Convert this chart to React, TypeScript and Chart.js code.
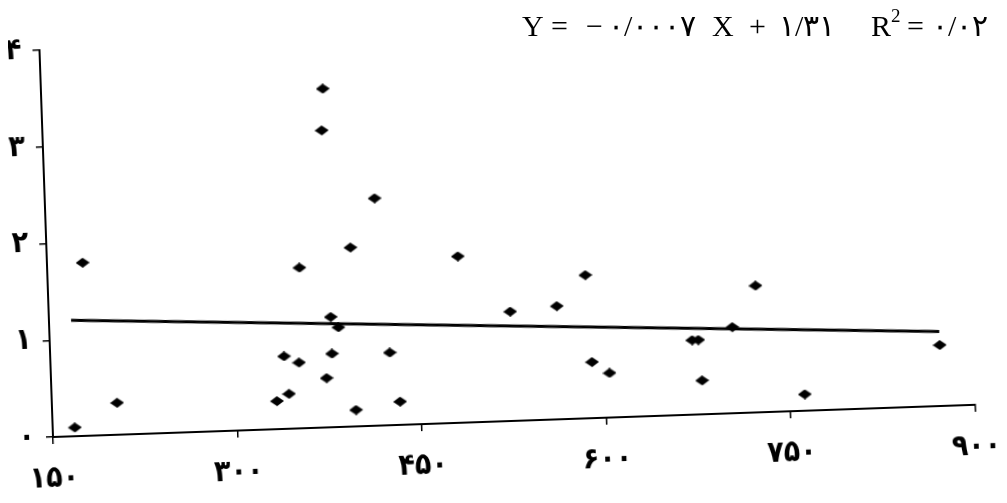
import React, { useEffect, useRef } from "react";
import { Chart, registerables } from "chart.js";

Chart.register(...registerables);

const xValues = [168, 179, 203, 333, 340, 343, 355, 352, 379, 377, 374, 379, 379, 385, 397, 397, 418, 426, 433, 484, 525, 563, 587, 590, 604, 672, 677, 679, 705, 725, 762, 873];
const yValues = [0.09, 1.79, 0.33, 0.29, 0.75, 0.36, 1.66, 0.68, 3.5, 3.07, 0.51, 1.14, 0.76, 1.03, 1.85, 0.17, 2.35, 0.75, 0.24, 1.72, 1.13, 1.17, 1.48, 0.58, 0.46, 0.77, 0.77, 0.35, 0.89, 1.31, 0.17, 0.63];

// Fitted trend line end points
const trendX = [168, 873];
const trendY = [1.2, 0.77];

const xTicks = [150, 300, 450, 600, 750, 900];
const yTicks = [0, 1, 2, 3, 4];

// Equation text pieces
const eqSlope = "0/0007";
const eqIntercept = "1/31";
const eqR2 = "0/02";

const PERSIAN = "۰۱۲۳۴۵۶۷۸۹";
const fa = (v: number | string) => String(v).replace(/\d/g, (d) => PERSIAN[Number(d)]);

function makeDiamond(): HTMLCanvasElement {
  const c = document.createElement("canvas");
  c.width = 14;
  c.height = 10;
  const ctx = c.getContext("2d")!;
  ctx.fillStyle = "#000";
  ctx.beginPath();
  ctx.moveTo(0, 5);
  ctx.lineTo(7, 0);
  ctx.lineTo(14, 5);
  ctx.lineTo(7, 10);
  ctx.closePath();
  ctx.fill();
  return c;
}

const serif = "'Liberation Serif', 'DejaVu Serif', serif";

function Piece({ left, children, style }: { left: number; children: React.ReactNode; style?: React.CSSProperties }) {
  return (
    <span
      style={{
        position: "absolute",
        left,
        top: 3,
        fontFamily: serif,
        fontSize: 30,
        lineHeight: "30px",
        whiteSpace: "pre",
        color: "#000",
        ...style,
      }}
    >
      {children}
    </span>
  );
}

export default function App() {
  const ref = useRef<HTMLCanvasElement | null>(null);

  useEffect(() => {
    if (!ref.current) return;
    const diamond = makeDiamond();
    const family = "'DejaVu Sans Condensed', 'DejaVu Sans', sans-serif";
    const xFont = { family, size: 30, weight: "bold" as const };
    const yFont = { family, size: 30, weight: "bold" as const };
    const chart = new Chart(ref.current, {
      type: "scatter",
      data: {
        datasets: [
          {
            label: "obs",
            data: xValues.map((x, i) => ({ x, y: yValues[i] })),
            pointStyle: diamond as any,
            pointRadius: 6,
            pointHoverRadius: 6,
            backgroundColor: "#000",
            borderColor: "#000",
            showLine: false,
          },
          {
            label: "trend",
            data: trendX.map((x, i) => ({ x, y: trendY[i] })),
            showLine: true,
            borderColor: "#000",
            borderWidth: 3,
            pointRadius: 0,
            fill: false,
          },
        ],
      },
      options: {
        responsive: false,
        animation: false,
        events: [],
        layout: { padding: { left: 0, right: 23.4, top: 42, bottom: 0 } },
        plugins: { legend: { display: false }, tooltip: { enabled: false }, title: { display: false } },
        scales: {
          x: {
            type: "linear",
            min: 150,
            max: 900,
            afterBuildTicks: (s: any) => {
              s.ticks = xTicks.map((v) => ({ value: v }));
            },
            afterFit: (s: any) => {
              s.height = 58;
              s.paddingLeft = 0;
              s.paddingRight = 0;
            },
            border: { display: true, color: "#000", width: 2 },
            grid: { display: true, drawOnChartArea: false, drawTicks: true, tickLength: 7, color: "#000", lineWidth: 1.5 },
            ticks: { color: "#000", font: xFont, padding: 17, maxRotation: 0, callback: (v: any) => fa(v) },
          },
          y: {
            type: "linear",
            min: 0,
            max: 4,
            afterBuildTicks: (s: any) => {
              s.ticks = yTicks.map((v) => ({ value: v }));
            },
            afterFit: (s: any) => {
              s.width = 45;
              s.paddingTop = 0;
              s.paddingBottom = 0;
            },
            border: { display: true, color: "#000", width: 2 },
            grid: { display: true, drawOnChartArea: false, drawTicks: true, tickLength: 7, color: "#000", lineWidth: 1.5 },
            ticks: { color: "#000", font: yFont, padding: 11, callback: (v: any) => fa(v) },
          },
        },
      },
    });
    return () => chart.destroy();
  }, []);

  return (
    <div style={{ position: "relative", width: 991, height: 487, background: "#fff" }}>
      <canvas
        ref={ref}
        width={991}
        height={487}
        style={{
          position: "absolute",
          left: 0,
          top: 0,
          width: 991,
          height: 487,
          transform: "rotate(-2deg)",
          transformOrigin: "45px 429px",
        }}
      />
      <Piece left={514}>Y</Piece>
      <Piece left={543}>=</Piece>
      <Piece left={578}>−</Piece>
      <Piece left={600} style={{ letterSpacing: 3 }}>{fa(eqSlope)}</Piece>
      <Piece left={704}>X</Piece>
      <Piece left={741}>+</Piece>
      <Piece left={771} style={{ letterSpacing: 1 }}>{fa(eqIntercept)}</Piece>
      <Piece left={863}>R</Piece>
      <Piece left={883} style={{ fontSize: 19, top: -7 }}>2</Piece>
      <Piece left={899}>=</Piece>
      <Piece left={924} style={{ letterSpacing: 3 }}>{fa(eqR2)}</Piece>
    </div>
  );
}
